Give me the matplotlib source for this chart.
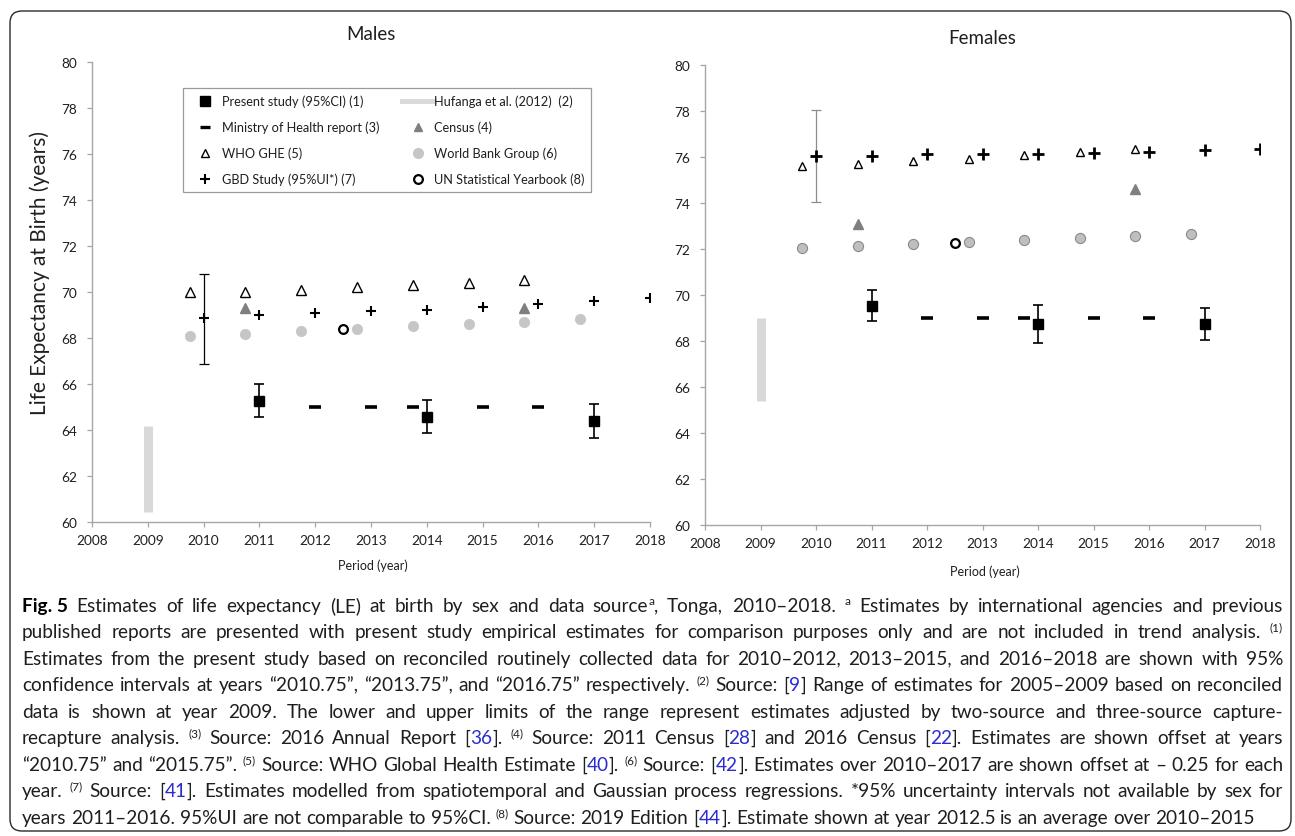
import re
import matplotlib
matplotlib.use("Agg")
import matplotlib.pyplot as plt
from matplotlib.lines import Line2D
from matplotlib.patches import FancyBboxPatch
from matplotlib.transforms import IdentityTransform

W, H = 1295, 837
FONT = ["Lato", "DejaVu Sans"]
plt.rcParams["font.family"] = FONT

# ---------------- data ----------------
x_min, x_max = 2008, 2018
y_min, y_max = 60, 80
x_ticks = list(range(2008, 2019))
y_ticks = list(range(60, 81, 2))

years_study = [2011, 2014, 2017]
male_study = [65.28, 64.56, 64.40]
male_study_lo = [64.57, 63.88, 63.67]
male_study_hi = [66.00, 65.30, 65.15]
female_study = [69.54, 68.74, 68.74]
female_study_lo = [68.86, 67.93, 68.06]
female_study_hi = [70.22, 69.58, 69.45]

year_hufanga = [2009]
male_hufanga = [(60.43, 64.19)]
female_hufanga = [(65.41, 69.00)]

years_moh = [2012, 2013, 2013.75, 2015, 2016]
male_moh = [65.0, 65.0, 65.0, 65.0, 65.0]
female_moh = [69.0, 69.0, 69.0, 69.0, 69.0]

years_census = [2010.75, 2015.75]
male_census = [69.3, 69.3]
female_census = [73.1, 74.6]

years_who = [2009.75, 2010.75, 2011.75, 2012.75, 2013.75, 2014.75, 2015.75]
male_who = [70.0, 70.0, 70.1, 70.2, 70.3, 70.4, 70.5]
female_who = [75.6, 75.7, 75.8, 75.9, 76.1, 76.2, 76.35]

years_wb = [2009.75, 2010.75, 2011.75, 2012.75, 2013.75, 2014.75, 2015.75, 2016.75]
male_wb = [68.09, 68.18, 68.29, 68.41, 68.51, 68.61, 68.71, 68.81]
female_wb = [72.04, 72.13, 72.21, 72.30, 72.37, 72.47, 72.55, 72.65]

years_gbd = [2010, 2011, 2012, 2013, 2014, 2015, 2016, 2017, 2018]
male_gbd = [68.86, 68.99, 69.09, 69.18, 69.23, 69.36, 69.47, 69.60, 69.73]
female_gbd = [76.02, 76.05, 76.11, 76.13, 76.12, 76.18, 76.22, 76.28, 76.34]
year_gbd_ui = [2010]
male_gbd_ui = [(66.87, 70.78)]
female_gbd_ui = [(74.03, 78.05)]

year_un = [2012.5]
male_un = [68.39]
female_un = [72.24]

legend_labels = {
    "study": "Present study (95%CI) (1)",
    "hufanga": "Hufanga et al. (2012)  (2)",
    "moh": "Ministry of Health report (3)",
    "census": "Census (4)",
    "who": "WHO GHE (5)",
    "wb": "World Bank Group (6)",
    "gbd": "GBD Study (95%UI*) (7)",
    "un": "UN Statistical Yearbook (8)",
}

caption_lines = [
    "**Fig. 5** Estimates of life expectancy (LE) at birth by sex and data source^a^, Tonga, 2010–2018. ^a^ Estimates by international agencies and previous",
    "published reports are presented with present study empirical estimates for comparison purposes only and are not included in trend analysis. ^(1)^",
    "Estimates from the present study based on reconciled routinely collected data for 2010–2012, 2013–2015, and 2016–2018 are shown with 95%",
    "confidence intervals at years “2010.75”, “2013.75”, and “2016.75” respectively. ^(2)^ Source: [{9}] Range of estimates for 2005–2009 based on reconciled",
    "data is shown at year 2009. The lower and upper limits of the range represent estimates adjusted by two-source and three-source capture-",
    "recapture analysis. ^(3)^ Source: 2016 Annual Report [{36}]. ^(4)^ Source: 2011 Census [{28}] and 2016 Census [{22}]. Estimates are shown offset at years",
    "“2010.75” and “2015.75”. ^(5)^ Source: WHO Global Health Estimate [{40}]. ^(6)^ Source: [{42}]. Estimates over 2010–2017 are shown offset at – 0.25 for each",
    "year. ^(7)^ Source: [{41}]. Estimates modelled from spatiotemporal and Gaussian process regressions. *95% uncertainty intervals not available by sex for",
    "years 2011–2016. 95%UI are not comparable to 95%CI. ^(8)^ Source: 2019 Edition [{44}]. Estimate shown at year 2012.5 is an average over 2010–2015",
]

# ---------------- figure ----------------
fig = plt.figure(figsize=(W / 100, H / 100), dpi=100)
fig.patch.set_facecolor("white")


def rect(x0, y0, x1, y1):
    return [x0 / W, 1 - y1 / H, (x1 - x0) / W, (y1 - y0) / H]


SPINE = "#a6a6a6"
TXT = "#1f1f1f"


def style_axes(ax):
    ax.set_xlim(x_min, x_max)
    ax.set_ylim(y_min, y_max)
    ax.set_xticks(x_ticks)
    ax.set_yticks(y_ticks)
    for s in ("top", "right"):
        ax.spines[s].set_visible(False)
    for s in ("left", "bottom"):
        ax.spines[s].set_color(SPINE)
        ax.spines[s].set_linewidth(1.0)
    ax.tick_params(axis="both", direction="out", length=3.5, width=0.9,
                   color=SPINE, labelsize=9.8, labelcolor=TXT)
    ax.tick_params(axis="y", pad=7)
    ax.tick_params(axis="x", pad=5)
    ax.set_facecolor("white")


def draw_panel(ax, study, lo, hi, huf, moh, census, who, wb, gbd, gbd_ui, un,
               female=False):
    for x, (a, b) in zip(year_hufanga, huf):
        ax.plot([x, x], [a, b], color="#d9d9d9", lw=6.5, solid_capstyle="butt", zorder=1)
    if female:
        ax.plot(years_wb, wb, ls="none", marker="o", ms=7.3, mfc="#bfbfbf",
                mec="#8a8a8a", mew=0.8, zorder=2)
    else:
        ax.plot(years_wb, wb, ls="none", marker="o", ms=7.5, mfc="#c6c6c6",
                mec="#c6c6c6", mew=0.5, zorder=2)
    ax.plot(years_census, census, ls="none", marker="^", ms=6.8, mfc="#7f7f7f",
            mec="#7f7f7f", zorder=3)
    ax.plot(years_who, who, ls="none", marker="^", ms=6.5 if not female else 5.8,
            mfc="white", mec="black", mew=1.0, zorder=3)
    for x, (a, b) in zip(year_gbd_ui, gbd_ui):
        ax.errorbar([x], [(a + b) / 2], yerr=[[(b - a) / 2], [(b - a) / 2]],
                    fmt="none", ecolor="#8c8c8c" if female else "black",
                    elinewidth=0.9, capsize=3.5, capthick=0.9, zorder=3)
    ax.plot(years_gbd, gbd, ls="none", marker="+", ms=8.0 if female else 7.3,
            mec="black", mew=2.0 if female else 1.5, zorder=4)
    ax.plot(year_un, un, ls="none", marker="o", ms=6.3, mfc="white", mec="black",
            mew=1.6, zorder=4)
    ax.plot(years_moh, moh, ls="none", marker="_", ms=8.0, mec="black", mew=2.6, zorder=4)
    yerr = [[s - l for s, l in zip(study, lo)], [h - s for s, h in zip(study, hi)]]
    ax.errorbar(years_study, study, yerr=yerr, fmt="s", ms=7.0, mfc="black", mec="black",
                ecolor="black", elinewidth=1.2, capsize=3.5, capthick=1.2, zorder=5)


ax_m = fig.add_axes(rect(92, 62.7, 650, 523.3))
ax_f = fig.add_axes(rect(705, 65.7, 1260, 526.4))
for ax in (ax_m, ax_f):
    style_axes(ax)

draw_panel(ax_m, male_study, male_study_lo, male_study_hi, male_hufanga, male_moh,
           male_census, male_who, male_wb, male_gbd, male_gbd_ui, male_un)
draw_panel(ax_f, female_study, female_study_lo, female_study_hi, female_hufanga,
           female_moh, female_census, female_who, female_wb, female_gbd,
           female_gbd_ui, female_un, female=True)

# legend (Males panel)
h_study = Line2D([], [], ls="none", marker="s", ms=7.0, mfc="black", mec="black")
h_huf = Line2D([], [], color="#d9d9d9", lw=3.5)
h_moh = Line2D([], [], ls="none", marker="_", ms=7.0, mec="black", mew=2.4)
h_census = Line2D([], [], ls="none", marker="^", ms=6.3, mfc="#7f7f7f", mec="#7f7f7f")
h_who = Line2D([], [], ls="none", marker="^", ms=6.3, mfc="white", mec="black", mew=1.0)
h_wb = Line2D([], [], ls="none", marker="o", ms=7.0, mfc="#c6c6c6", mec="#c6c6c6")
h_gbd = Line2D([], [], ls="none", marker="+", ms=7.0, mec="black", mew=1.5)
h_un = Line2D([], [], ls="none", marker="o", ms=6.3, mfc="white", mec="black", mew=1.6)
handles = [h_study, h_moh, h_who, h_gbd, h_huf, h_census, h_wb, h_un]
labels = [legend_labels[k] for k in ("study", "moh", "who", "gbd", "hufanga", "census", "wb", "un")]
lx0 = (182.6 - 92) / 558
lx1 = (591.4 - 92) / 558
ly1 = 1 - (89.3 - 62.7) / 460.6
ly0 = 1 - (191.7 - 62.7) / 460.6
leg = ax_m.legend(handles, labels, ncol=2, loc="upper left",
                  bbox_to_anchor=(lx0, ly0, lx1 - lx0, ly1 - ly0), mode="expand",
                  borderaxespad=0, fontsize=9.2, frameon=True, fancybox=False,
                  edgecolor="#9a9a9a", framealpha=1, handlelength=2.5,
                  handletextpad=0.05, labelspacing=1.04, borderpad=0.52,
                  columnspacing=1.2)
leg.get_frame().set_linewidth(0.9)
for t in leg.get_texts():
    t.set_color(TXT)

# titles and labels
fig.text(371 / W, 1 - 35 / H, "Males", ha="center", va="center", fontsize=13.5, color=TXT)
fig.text(982.5 / W, 1 - 38 / H, "Females", ha="center", va="center", fontsize=13.5, color=TXT)
fig.text(40 / W, 1 - 273 / H, "Life Expectancy at Birth (years)", rotation=90,
         ha="center", va="center", fontsize=15, color=TXT)
fig.text(373 / W, 1 - 566 / H, "Period (year)", ha="center", va="center", fontsize=9, color=TXT)
fig.text(985 / W, 1 - 572 / H, "Period (year)", ha="center", va="center", fontsize=9, color=TXT)

frame = FancyBboxPatch((10, H - 832), 1281, 820, boxstyle="round,pad=0,rounding_size=12",
                       transform=IdentityTransform(), fill=False, ec="#2a2a2a", lw=1.0,
                       zorder=0)
fig.patches.append(frame)

# ---------------- caption (rich text, word-level layout) ----------------
renderer = fig.canvas.get_renderer()
TAG = re.compile(r"(\*\*.*?\*\*|\{.*?\}|\^.*?\^)")


def parse(line):
    words = [[]]
    for part in TAG.split(line):
        if not part:
            continue
        if part.startswith("**"):
            words[-1].append((part[2:-2], "b"))
        elif part.startswith("{"):
            words[-1].append((part[1:-1], "blue"))
        elif part.startswith("^"):
            words[-1].append((part[1:-1], "sup"))
        else:
            frags = part.split(" ")
            for i, fr in enumerate(frags):
                if i > 0:
                    words.append([])
                if fr:
                    words[-1].append((fr, "n"))
    return [w for w in words if w]


def make_piece(text, style, size, x, y):
    kw = dict(fontsize=size, color="#1e1e1e", ha="left", va="baseline",
              transform=IdentityTransform())
    if style == "b":
        kw["fontweight"] = "bold"
        kw["color"] = "black"
    elif style == "blue":
        kw["color"] = "#2b2bd0"
    elif style == "sup":
        kw["fontsize"] = size * 0.62
        y = y + size * 0.5
    t = fig.text(x, y, text, **kw)
    w = t.get_window_extent(renderer=renderer).width
    return t, w


def word_width(word, size):
    total = 0
    for text, style in word:
        t, w = make_piece(text, style, size, 0, -100)
        t.remove()
        total += w
    return total


CAP_SIZE = 13.7
probe1, wa = make_piece("a a", "n", CAP_SIZE, 0, -100)
probe2, wb_ = make_piece("aa", "n", CAP_SIZE, 0, -100)
space_w = wa - wb_
probe1.remove()
probe2.remove()

x_left, x_right = 22, 1283
base0, pitch = 611.7, 26.5
for i, line in enumerate(caption_lines):
    words = parse(line)
    size = CAP_SIZE
    widths = [word_width(w, size) for w in words]
    natural = sum(widths) + space_w * (len(words) - 1)
    avail = x_right - x_left
    if natural > avail:
        size = CAP_SIZE * avail / natural * 0.995
        widths = [word_width(w, size) for w in words]
        natural = sum(widths) + space_w * size / CAP_SIZE * (len(words) - 1)
    sp = space_w * size / CAP_SIZE
    gap = sp
    if i < len(caption_lines) - 1 and len(words) > 1:
        gap = sp + (avail - natural) / (len(words) - 1)
    x = x_left
    ybase = H - (base0 + pitch * i)
    for w, ww in zip(words, widths):
        xx = x
        for text, style in w:
            _, pw = make_piece(text, style, size, xx, ybase)
            xx += pw
        x += ww + gap

fig.savefig("out.png", dpi=100)
